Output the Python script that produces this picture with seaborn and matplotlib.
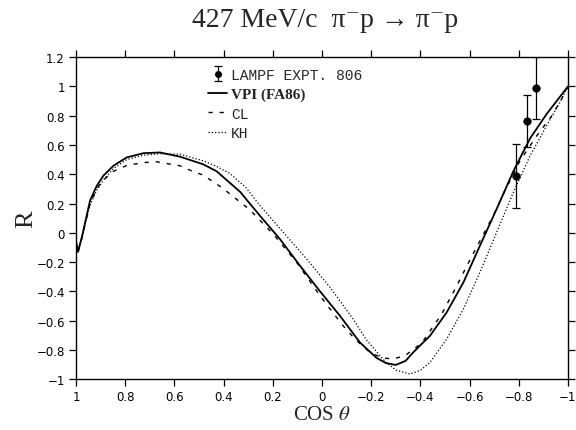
import numpy as np
import pandas as pd
import matplotlib
matplotlib.use("Agg")
import matplotlib.pyplot as plt
from matplotlib.lines import Line2D
import seaborn as sns

# ---- data ----
vpi_cos = [1.0, 0.992, 0.975, 0.963, 0.943, 0.916, 0.889, 0.848, 0.794, 0.726, 0.659,
           0.577, 0.483, 0.428, 0.333, 0.252, 0.171, 0.089, 0.008, -0.073, -0.154,
           -0.222, -0.26, -0.30, -0.34, -0.371, -0.405, -0.439, -0.507, -0.575, -0.642,
           -0.71, -0.778, -0.846, -0.913, -1.0]
vpi_r = [-0.06, -0.13, -0.02, 0.07, 0.22, 0.32, 0.39, 0.458, 0.515, 0.544, 0.549,
         0.52, 0.468, 0.42, 0.28, 0.116, -0.043, -0.226, -0.40, -0.567, -0.749,
         -0.855, -0.89, -0.903, -0.875, -0.817, -0.76, -0.704, -0.544, -0.339, -0.089,
         0.162, 0.42, 0.645, 0.811, 1.0]

cl_cos = [1.0, 0.992, 0.975, 0.963, 0.943, 0.916, 0.889, 0.848, 0.794, 0.726, 0.672,
          0.577, 0.537, 0.483, 0.408, 0.293, 0.198, 0.103, 0.008, -0.08, -0.134,
          -0.19, -0.242, -0.29, -0.337, -0.385, -0.412, -0.487, -0.534, -0.60,
          -0.696, -0.737, -0.805, -0.873, -0.934, -0.974, -1.0]
cl_r = [-0.06, -0.13, -0.03, 0.06, 0.20, 0.30, 0.36, 0.42, 0.46, 0.48, 0.485,
        0.458, 0.428, 0.394, 0.31, 0.157, -0.009, -0.202, -0.43, -0.624, -0.726,
        -0.81, -0.855, -0.862, -0.84, -0.78, -0.738, -0.555, -0.407, -0.19,
        0.116, 0.264, 0.492, 0.662, 0.799, 0.913, 1.0]

kh_cos = [1.0, 0.992, 0.975, 0.963, 0.943, 0.916, 0.889, 0.848, 0.794, 0.726, 0.659,
          0.577, 0.483, 0.43, 0.374, 0.31, 0.252, 0.157, 0.062, -0.033, -0.127, -0.18,
          -0.236, -0.263, -0.303, -0.358, -0.40, -0.439, -0.507, -0.575, -0.642, -0.71,
          -0.778, -0.846, -0.913, -0.967, -1.0]
kh_r = [-0.06, -0.13, -0.03, 0.06, 0.19, 0.29, 0.36, 0.44, 0.50, 0.53, 0.54,
        0.537, 0.492, 0.455, 0.405, 0.31, 0.186, 0.003, -0.18, -0.373, -0.59, -0.73,
        -0.84, -0.89, -0.94, -0.965, -0.94, -0.886, -0.726, -0.521, -0.271, 0.003,
        0.276, 0.526, 0.731, 0.891, 1.0]

exp_cos = [-0.79, -0.835, -0.87]
exp_r = [0.39, 0.765, 0.99]
exp_err = [0.22, 0.18, 0.21]

x_ticks = [1, 0.8, 0.6, 0.4, 0.2, 0, -0.2, -0.4, -0.6, -0.8, -1]
y_ticks = [1.2, 1, 0.8, 0.6, 0.4, 0.2, 0, -0.2, -0.4, -0.6, -0.8, -1]

# ---- plot ----
sns.set_theme(style="ticks")
plt.rcParams["mathtext.fontset"] = "stix"
plt.rcParams["font.family"] = ["DejaVu Sans"]

fig = plt.figure(figsize=(5.76, 4.31), dpi=100)
ax = fig.add_axes([0.132, 0.118, 0.854, 0.747])

sns.lineplot(x=vpi_cos, y=vpi_r, ax=ax, sort=False, color="black", lw=1.3)
sns.lineplot(x=cl_cos, y=cl_r, ax=ax, sort=False, color="black", lw=1.0,
             linestyle=(0, (3, 5)))
sns.lineplot(x=kh_cos, y=kh_r, ax=ax, sort=False, color="black", lw=0.9,
             linestyle=(0, (1, 1.6)))
ax.errorbar(exp_cos, exp_r, yerr=exp_err, fmt="none", ecolor="black",
            elinewidth=0.9, capsize=3, capthick=0.9)
sns.scatterplot(x=exp_cos, y=exp_r, ax=ax, color="black", s=30, zorder=5,
                edgecolor="black")

ax.set_xlim(1, -1)
ax.set_ylim(-1, 1.2)
ax.set_xticks(x_ticks)
ax.set_xticklabels([f"{t:g}".replace("-", "\u2212") for t in x_ticks])
ax.set_yticks(y_ticks)
ax.set_yticklabels([f"{t:g}".replace("-", "\u2212") for t in y_ticks])
for s in ax.spines.values():
    s.set_visible(True)
    s.set_linewidth(1.0)
    s.set_color("black")
ax.tick_params(axis="both", which="both", direction="out", length=5, width=0.9,
               top=True, right=True, labelsize=8.5, colors="black", pad=3)
ax.grid(False)

ax.set_xlabel(r"COS $\it{\theta}$", fontsize=15, family="Liberation Serif", labelpad=1)
ax.set_ylabel("R", fontsize=19, family="Liberation Serif")
ax.yaxis.set_label_coords(-0.078, 0.5)
fig.text(0.565, 0.952, "427 MeV/c  \u03c0\u207bp \u2192 \u03c0\u207bp",
         ha="center", va="center", fontsize=20,
         family=["Liberation Serif", "DejaVu Serif"])

# legend
h_exp = ax.errorbar([np.nan], [np.nan], yerr=[0.05], fmt="o", ms=4, color="black",
                    elinewidth=0.9, capsize=3, capthick=0.9)
h_vpi = Line2D([], [], color="black", lw=1.3)
h_cl = Line2D([], [], color="black", lw=1.0, linestyle=(0, (3, 5)))
h_kh = Line2D([], [], color="black", lw=0.9, linestyle=(0, (1, 1.6)))
leg = ax.legend([h_exp, h_vpi, h_cl, h_kh],
                ["LAMPF EXPT. 806", "VPI (FA86)", "CL", "KH"],
                loc="upper left", bbox_to_anchor=(0.255, 0.985), frameon=False,
                handlelength=1.3, handletextpad=0.25, labelspacing=0.35,
                borderaxespad=0)
fonts = [("Liberation Mono", "normal", 10.5), ("Liberation Serif", "bold", 11),
         ("Liberation Mono", "normal", 10.5), ("Liberation Mono", "normal", 10.5)]
for t, (fam, wt, sz) in zip(leg.get_texts(), fonts):
    t.set_family(fam)
    t.set_weight(wt)
    t.set_fontsize(sz)

fig.savefig("out.png", dpi=100)
